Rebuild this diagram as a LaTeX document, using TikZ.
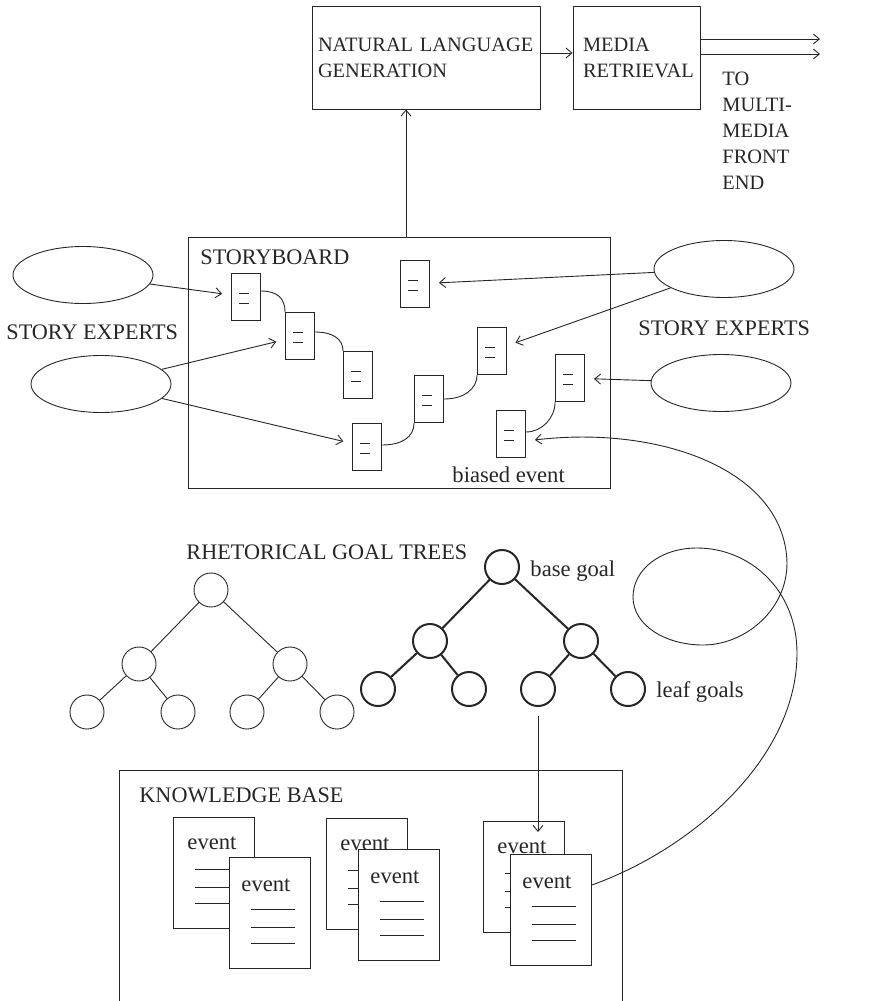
\documentclass[tikz,border=0pt]{standalone}
\usepackage{fontspec}
\setmainfont{Liberation Serif}
\usetikzlibrary{shapes.geometric,arrows.meta}
\tikzset{
  capslbl/.style={font=\fontsize{11.1}{13}\selectfont, inner sep=0pt},
  boxlbl/.style={font=\fontsize{10.2}{13}\selectfont, inner sep=0pt},
  lowlbl/.style={font=\fontsize{11.3}{13}\selectfont, inner sep=0pt},
  procbox/.style={draw, boxlbl, inner xsep=3pt, align=left, minimum height=51.5pt},
  expert/.style={ellipse, draw, minimum width=70pt, minimum height=28.5pt, inner sep=0pt},
  card/.style={draw, minimum width=14.5pt, minimum height=23.5pt, inner sep=0pt,
    path picture={\draw ([shift={(-3.5pt,2pt)}]path picture bounding box.center) -- ++(5pt,0pt);
                  \draw ([shift={(-3.5pt,-3pt)}]path picture bounding box.center) -- ++(5pt,0pt);}},
  page/.style={draw, fill=white, anchor=north west, minimum width=40.5pt, minimum height=55.5pt, inner sep=0pt,
    path picture={\foreach \ly in {1.75,-7.25,-15.25}
      \draw ([shift={(-9.25pt,\ly pt)}]path picture bounding box.center) -- ++(22pt,0pt);}},
  goal/.style={circle, draw, minimum size=17pt, inner sep=0pt}
}
\begin{document}
\begin{tikzpicture}[x=0.5pt,y=-0.5pt,line width=0.45pt,color=black!85,
    >={Straight Barb[length=3pt,width=5pt]}]
  \useasboundingbox (0,0) rectangle (870,1001);

  % generation and retrieval
  \node[procbox, text width=108pt] (nlg) at (426,57.5) {NATURAL LANGUAGE\\GENERATION};
  \node[procbox, inner xsep=5pt, text width=53.5pt] (mr) at (636.5,57.5) {MEDIA\\RETRIEVAL};
  \draw[->] (nlg.east |- 0,53) -- (mr.west |- 0,53);
  \coordinate (out1) at (820,39);
  \coordinate (out2) at (820,54);
  \draw[->] (mr.east |- out1) -- (out1);
  \draw[->] (mr.east |- out2) -- (out2);
  \node[boxlbl, anchor=north west, align=left] (frontlbl) at (722,72) {TO\\MULTI-\\MEDIA\\FRONT\\END};

  % storyboard
  \node[draw, minimum width=211pt, minimum height=125.5pt] (sb) at (399,362.5) {};
  \node[capslbl, anchor=west] (sblbl) at (200,257) {STORYBOARD};
  \node[lowlbl, anchor=west] (biaslbl) at (452,475) {biased event};
  \draw[->] (sb.north -| 406,0) -- (nlg.south -| 406,0);

  \node[card] (d1) at (246,297) {};
  \node[card] (d2) at (300,336) {};
  \node[card] (d3) at (358,375) {};
  \node[card] (d4) at (367,447) {};
  \node[card] (d5) at (415,284) {};
  \node[card] (d6) at (429,399) {};
  \node[card] (d7) at (492,351) {};
  \node[card] (d8) at (570,378) {};
  \node[card] (d9) at (511,434) {};
  \draw ([yshift=3pt]d1.east) .. controls +(16,0) and +(0,-14) .. (d2.north west);
  \draw ([yshift=2pt]d2.east) .. controls +(18,0) and +(0,-12) .. (d3.north west);
  \draw ([yshift=1pt]d4.east) .. controls +(20,0) and +(0,14) .. (d6.south west);
  \draw (d6.east) .. controls +(20,0) and +(0,14) .. (d7.south west);
  \draw ([yshift=1pt]d9.east) .. controls +(16,0) and +(0,16) .. (d8.south west);

  % story experts
  \node[expert] (ex1) at (83,275) {};
  \node[expert] (ex2) at (101,384) {};
  \node[expert] (ex3) at (724,269) {};
  \node[expert] (ex4) at (721,383) {};
  \node[capslbl, anchor=west] (explbl1) at (6,332) {STORY EXPERTS};
  \node[capslbl, anchor=west] (explbl2) at (638,328) {STORY EXPERTS};
  \draw[->, shorten >=4.5pt] (ex1) -- (d1);
  \draw[->, shorten >=4.5pt] (ex2) -- (d2);
  \draw[->, shorten >=4.5pt] (ex2) -- (d4);
  \draw[->, shorten >=4.5pt] (ex3) -- (d5);
  \draw[->, shorten >=4.5pt] (ex3) -- (d7);
  \draw[->, shorten >=4.5pt] (ex4) -- (d8);

  % goal trees
  \node[capslbl, anchor=west] (rgtlbl) at (186,552) {RHETORICAL GOAL TREES};
  \foreach \t/\dx/\dy/\lw in {a/0/0/0.45pt, b/291/-23/1pt}{
    \begin{scope}[shift={(\dx,\dy)}, line width=\lw]
      \node[goal] (\t0) at (211,590) {};
      \node[goal] (\t1) at (139,664) {};
      \node[goal] (\t2) at (290,664) {};
      \node[goal] (\t3) at (87,712) {};
      \node[goal] (\t4) at (178,712) {};
      \node[goal] (\t5) at (247,712) {};
      \node[goal] (\t6) at (337,712) {};
      \draw (\t0) -- (\t1) (\t0) -- (\t2) (\t1) -- (\t3) (\t1) -- (\t4) (\t2) -- (\t5) (\t2) -- (\t6);
    \end{scope}
  }
  \node[lowlbl, anchor=west] (baselbl) at (530,571) {base goal};
  \node[lowlbl, anchor=west] (leaflbl) at (656,692) {leaf goals};

  % knowledge base
  \draw (119,1010) |- (622,770) -- (622,1010);
  \node[capslbl, anchor=west] (kblbl) at (139,795) {KNOWLEDGE BASE};
  \foreach \n/\bx/\by/\fx/\fy in {1/173/817/229/857, 2/326/818/358/849, 3/483/821/510/854}{
    \node[page] (kb\n b) at (\bx,\by) {};
    \node[lowlbl] (kb\n bt) at ([xshift=-1pt,yshift=-13pt]kb\n b.north) {event};
    \node[page] (kb\n f) at (\fx,\fy) {};
    \node[lowlbl] (kb\n ft) at ([xshift=-2pt,yshift=-14pt]kb\n f.north) {event};
  }
  \coordinate (kbin) at ([yshift=-5.5pt]kb3b.north);
  \draw[->, shorten <=4.5pt] (b5) -- (b5 |- kbin);

  % biasing loop back to the storyboard
  \draw[->, shorten >=4.5pt] ([yshift=12.5pt]kb3f.east)
    .. controls (690,850) and (797,760) .. (797,653)
    .. controls (797,590) and (750,548) .. (697,548)
    .. controls (660,548) and (633,570) .. (633,597)
    .. controls (633,625) and (665,645) .. (703,645)
    .. controls (745,645) and (787,610) .. (787,563)
    .. controls (785,470) and (660,425) .. ([yshift=-3.5pt]d9.east);
\end{tikzpicture}
\end{document}
